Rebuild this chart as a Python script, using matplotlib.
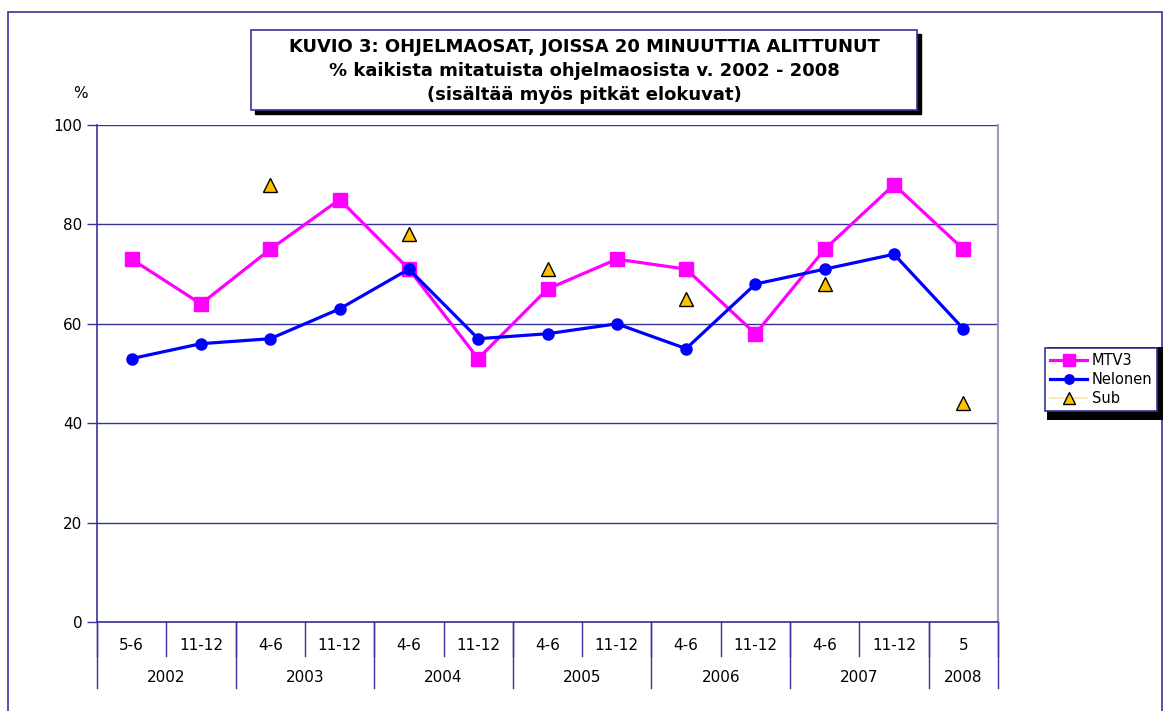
import numpy as np
import matplotlib.pyplot as plt
import matplotlib.transforms as mtransforms
from matplotlib.patches import Rectangle
from matplotlib.lines import Line2D

# Data
periods = ['5-6', '11-12', '4-6', '11-12', '4-6', '11-12', '4-6', '11-12',
           '4-6', '11-12', '4-6', '11-12', '5']
years = ['2002', '2003', '2004', '2005', '2006', '2007', '2008']
year_sizes = [2, 2, 2, 2, 2, 2, 1]
mtv3 = [73, 64, 75, 85, 71, 53, 67, 73, 71, 58, 75, 88, 75]
nelonen = [53, 56, 57, 63, 71, 57, 58, 60, 55, 68, 71, 74, 59]
sub = [np.nan, np.nan, 88, np.nan, 78, np.nan, 71, np.nan, 65, np.nan, 68, np.nan, 44]

navy = '#333399'
plt.rcParams['font.family'] = 'DejaVu Sans'

fig = plt.figure(figsize=(11.63, 7.11), dpi=100)
# outer chart border
fig.patches.append(Rectangle((8 / 1163, -0.05), 1154 / 1163, 1.05 - 12 / 711,
                             transform=fig.transFigure, fill=False,
                             edgecolor=navy, linewidth=1.2))

ax = fig.add_axes([97 / 1163, 89 / 711, 901 / 1163, 497 / 711])
x = np.arange(len(periods))

l1, = ax.plot(x, mtv3, color='#FF00FF', linewidth=2.3, marker='s',
              markersize=10.5, label='MTV3', zorder=3)
l2, = ax.plot(x, nelonen, color='#0000FF', linewidth=2.3, marker='o',
              markersize=8, label='Nelonen', zorder=4)
ax.plot(x, sub, linestyle='None', marker='^', markersize=10,
        markerfacecolor='#FFC000', markeredgecolor='black',
        markeredgewidth=1, zorder=5)
# legend entry for Sub shows its (hidden) pale line
l3 = Line2D([], [], color='#FFE699', linewidth=1.2, marker='^',
            markersize=10, markerfacecolor='#FFC000',
            markeredgecolor='black', markeredgewidth=1, label='Sub')

ax.set_xlim(-0.5, len(periods) - 0.5)
ax.set_ylim(0, 100)
ax.set_yticks(range(0, 101, 20))
ax.yaxis.grid(True, color=navy, linewidth=1)
ax.set_axisbelow(True)
ax.tick_params(axis='y', colors=navy, labelcolor='black', labelsize=11,
               length=7, width=1)
ax.set_xticks([])
for side in ['left', 'bottom']:
    ax.spines[side].set_color(navy)
    ax.spines[side].set_linewidth(1.2)
ax.spines['top'].set_visible(False)
ax.spines['right'].set_color('#9999cc')
ax.spines['right'].set_linewidth(1.5)

ax.text(-17 / 901, 1 + 31 / 497, '%', transform=ax.transAxes, ha='center',
        va='center', fontsize=11)

# two-level category axis
trans = mtransforms.blended_transform_factory(ax.transData, ax.transAxes)
px = 1 / 497
for i, lab in enumerate(periods):
    ax.text(i, -24 * px, lab, transform=trans, ha='center', va='center',
            fontsize=11, clip_on=False)
for b in np.arange(-0.5, len(periods), 1.0):
    ax.plot([b, b], [0, -34 * px], transform=trans, color=navy, linewidth=1,
            clip_on=False)
start = 0
bounds = [-0.5]
for yr, n in zip(years, year_sizes):
    ax.text(start + (n - 1) / 2, -56 * px, yr, transform=trans, ha='center',
            va='center', fontsize=11, clip_on=False)
    start += n
    bounds.append(start - 0.5)
for b in bounds:
    ax.plot([b, b], [0, -66 * px], transform=trans, color=navy, linewidth=1,
            clip_on=False)

# title box with shadow
tx0, ty0, tw, th = 251 / 1163, 1 - 110 / 711, 666 / 1163, 80 / 711
fig.patches.append(Rectangle((tx0 + 4 / 1163, ty0 - 4 / 711), tw, th,
                             transform=fig.transFigure, facecolor='black',
                             edgecolor='black', zorder=5))
fig.patches.append(Rectangle((tx0, ty0), tw, th, transform=fig.transFigure,
                             facecolor='white', edgecolor=navy, linewidth=1.2,
                             zorder=6))
fig.text(tx0 + tw / 2, ty0 + th / 2 - 1 / 711,
         'KUVIO 3: OHJELMAOSAT, JOISSA 20 MINUUTTIA ALITTUNUT\n'
         '% kaikista mitatuista ohjelmaosista v. 2002 - 2008\n'
         '(sisältää myös pitkät elokuvat)',
         ha='center', va='center', fontsize=13, fontweight='bold',
         linespacing=1.4, zorder=7)

# legend box with shadow
lx0, ly0, lw, lh = 1043 / 1163, 1 - 416 / 711, 116 / 1163, 73 / 711
fig.patches.append(Rectangle((lx0 + 4 / 1163, ly0 - 4 / 711), lw, lh,
                             transform=fig.transFigure, facecolor='black',
                             zorder=5))
leg = fig.legend(handles=[l1, l2, l3], loc='center',
                 bbox_to_anchor=(lx0 + lw / 2, ly0 + lh / 2),
                 frameon=True, fancybox=False, fontsize=10.5,
                 handlelength=2.6, handletextpad=0.3, borderpad=0.3,
                 labelspacing=0.3, markerscale=0.85, framealpha=1)
leg.get_frame().set_edgecolor(navy)
leg.get_frame().set_linewidth(1.2)
leg.set_zorder(8)

fig.savefig('out.png', dpi=100)
